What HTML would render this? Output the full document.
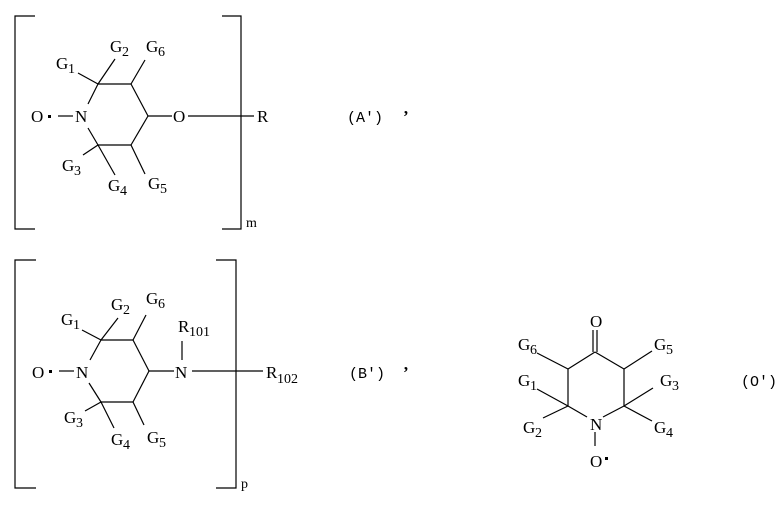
<!DOCTYPE html>
<html><head><meta charset="utf-8"><style>
html,body{margin:0;padding:0;background:#fff;}
svg{display:block;}
text{font-family:"Liberation Serif",serif;font-size:17px;fill:#000;}
.s{font-size:14px;}
.m{font-family:"Liberation Mono",monospace;font-size:15px;}
</style></head><body>
<svg width="783" height="506" viewBox="0 0 783 506" xmlns="http://www.w3.org/2000/svg">
<g stroke="#000" stroke-width="1.2" fill="none">
<polyline points="35,16 15,16 15,229 35,229"/>
<polyline points="222,16 241,16 241,229 222,229"/>
<line x1="88" y1="104" x2="98" y2="84"/>
<line x1="98" y1="84" x2="131" y2="84"/>
<line x1="131" y1="84" x2="148" y2="116"/>
<line x1="148" y1="116" x2="131" y2="145"/>
<line x1="131" y1="145" x2="98" y2="145"/>
<line x1="98" y1="145" x2="88" y2="128"/>
<line x1="148" y1="116" x2="172" y2="116"/>
<line x1="188" y1="116" x2="254" y2="116"/>
<line x1="58" y1="116" x2="73" y2="116"/>
<line x1="98" y1="84" x2="78" y2="73"/>
<line x1="98" y1="84" x2="115" y2="59"/>
<line x1="131" y1="84" x2="145" y2="60"/>
<line x1="98" y1="145" x2="83" y2="155"/>
<line x1="98" y1="145" x2="115" y2="175"/>
<line x1="131" y1="145" x2="145" y2="174"/>
<polyline points="36,260 15,260 15,488 36,488"/>
<polyline points="216,260 236,260 236,488 216,488"/>
<line x1="90" y1="360" x2="101" y2="340"/>
<line x1="101" y1="340" x2="133" y2="340"/>
<line x1="133" y1="340" x2="149" y2="371"/>
<line x1="149" y1="371" x2="133" y2="402"/>
<line x1="133" y1="402" x2="101" y2="402"/>
<line x1="101" y1="402" x2="89" y2="383"/>
<line x1="149" y1="371" x2="174" y2="371"/>
<line x1="192" y1="371" x2="263" y2="371"/>
<line x1="182" y1="341" x2="182" y2="360"/>
<line x1="59" y1="371" x2="74" y2="371"/>
<line x1="101" y1="340" x2="82" y2="330"/>
<line x1="101" y1="340" x2="118" y2="318"/>
<line x1="133" y1="340" x2="146" y2="315"/>
<line x1="101" y1="402" x2="85" y2="411"/>
<line x1="101" y1="402" x2="114" y2="428"/>
<line x1="133" y1="402" x2="144" y2="425"/>
<line x1="593" y1="330" x2="593" y2="352"/>
<line x1="597" y1="330" x2="597" y2="352"/>
<line x1="595" y1="352" x2="624" y2="369"/>
<line x1="624" y1="369" x2="624" y2="406"/>
<line x1="624" y1="406" x2="603" y2="417"/>
<line x1="587" y1="417" x2="568" y2="406"/>
<line x1="568" y1="406" x2="568" y2="369"/>
<line x1="568" y1="369" x2="595" y2="352"/>
<line x1="568" y1="369" x2="537" y2="353"/>
<line x1="624" y1="369" x2="652" y2="351"/>
<line x1="568" y1="406" x2="537" y2="389"/>
<line x1="568" y1="406" x2="543" y2="418"/>
<line x1="624" y1="406" x2="653" y2="388"/>
<line x1="624" y1="406" x2="652" y2="421"/>
<line x1="595" y1="432" x2="595" y2="446"/>
</g>
<g fill="#000">
<rect x="48" y="115" width="3" height="3"/>
<rect x="49" y="370" width="3" height="3"/>
<rect x="605" y="457" width="3" height="3"/>
</g>
<text x="31" y="122">O</text>
<text x="75" y="122">N</text>
<text x="173" y="122">O</text>
<text x="257" y="122">R</text>
<text x="56" y="69">G</text><text class="s" x="68" y="73">1</text>
<text x="110" y="52">G</text><text class="s" x="122" y="56">2</text>
<text x="146" y="52">G</text><text class="s" x="158" y="56">6</text>
<text x="62" y="171">G</text><text class="s" x="74" y="175">3</text>
<text x="108" y="191">G</text><text class="s" x="120" y="195">4</text>
<text x="148" y="189">G</text><text class="s" x="160" y="193">5</text>
<text x="246" y="227" class="s">m</text>
<text x="347" y="122" class="m">(A')</text>
<text x="403" y="122" style="font-weight:bold">’</text>
<text x="32" y="378">O</text>
<text x="76" y="378">N</text>
<text x="175" y="378">N</text>
<text x="178" y="332">R</text><text class="s" x="189" y="336">101</text>
<text x="266" y="378">R</text><text class="s" x="277" y="383">102</text>
<text x="61" y="325">G</text><text class="s" x="73" y="329">1</text>
<text x="111" y="310">G</text><text class="s" x="123" y="314">2</text>
<text x="146" y="304">G</text><text class="s" x="158" y="308">6</text>
<text x="64" y="423">G</text><text class="s" x="76" y="427">3</text>
<text x="111" y="445">G</text><text class="s" x="123" y="449">4</text>
<text x="147" y="443">G</text><text class="s" x="159" y="447">5</text>
<text x="241" y="488" class="s">p</text>
<text x="349" y="378" class="m">(B')</text>
<text x="403" y="378" style="font-weight:bold">’</text>
<text x="590" y="327">O</text>
<text x="590" y="430">N</text>
<text x="590" y="467">O</text>
<text x="518" y="350">G</text><text class="s" x="530" y="354">6</text>
<text x="654" y="350">G</text><text class="s" x="666" y="354">5</text>
<text x="518" y="386">G</text><text class="s" x="530" y="390">1</text>
<text x="660" y="386">G</text><text class="s" x="672" y="390">3</text>
<text x="523" y="433">G</text><text class="s" x="535" y="437">2</text>
<text x="654" y="433">G</text><text class="s" x="666" y="437">4</text>
<text x="741" y="386" class="m">(O')</text>
</svg>
</body></html>
